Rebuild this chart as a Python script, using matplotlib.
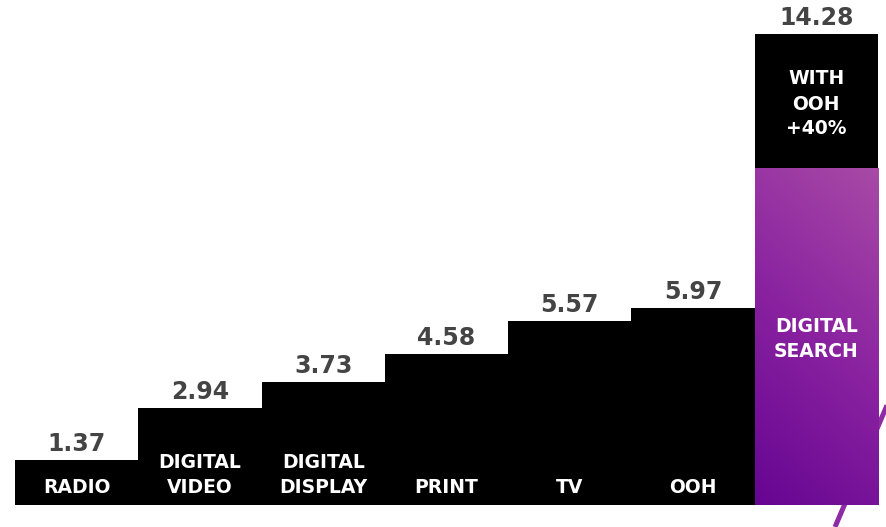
import matplotlib
matplotlib.use("Agg")
import matplotlib.pyplot as plt
import numpy as np
from matplotlib.colors import LinearSegmentedColormap
from matplotlib.lines import Line2D

categories = ["RADIO", "DIGITAL\nVIDEO", "DIGITAL\nDISPLAY", "PRINT", "TV", "OOH", "DIGITAL\nSEARCH"]
values = [1.37, 2.94, 3.73, 4.58, 5.57, 5.97, 14.28]
search_base = 10.2
uplift_label = "WITH\nOOH\n+40%"

W, H = 886, 527
fig = plt.figure(figsize=(W / 100, H / 100), dpi=100)
fig.patch.set_facecolor("white")

# decorative diagonal stroke
fig.add_artist(Line2D([835 / W, 888 / W], [0 / H, 124 / H], color="#8e2aa3",
                      lw=3.6, transform=fig.transFigure, zorder=0, solid_capstyle="butt"))

ax = fig.add_axes([15 / W, 22 / H, 863 / W, 505 / H])
ax.set_zorder(1)
ax.patch.set_alpha(0)
ax.axis("off")

x = np.arange(len(values))
n = len(values)
bottoms = [0] * (n - 1) + [search_base]
heights = values[:-1] + [values[-1] - search_base]
ax.bar(x, heights, bottom=bottoms, width=1.0, color="black", edgecolor="none", zorder=2)

cmap = LinearSegmentedColormap.from_list("p", ["#660592", "#8a22a0", "#a84aa6"])
gx, gy = np.meshgrid(np.linspace(0, 1, 100), np.linspace(0, 1, 200))
grad = 0.75 * gy + 0.25 * gx
ax.imshow(grad, extent=(n - 1.5, n - 0.5, 0, search_base), origin="lower",
          aspect="auto", cmap=cmap, zorder=2, interpolation="bilinear")
ax.set_xlim(-0.5, n - 0.5)
ax.set_ylim(0, 505 / 33)

font = "DejaVu Sans"
for xi, v in zip(x, values):
    ax.annotate(f"{v:.2f}", (xi, v), xytext=(0, 3), textcoords="offset points",
                ha="center", va="bottom", fontsize=17, fontweight="bold",
                color="#444444", family=font, zorder=3)

for xi, c in zip(x[:-1], categories[:-1]):
    ax.annotate(c, (xi, 0), xytext=(0, 6), textcoords="offset points",
                ha="center", va="bottom", fontsize=13.5, fontweight="bold",
                color="white", family=font, linespacing=1.4, zorder=3)

ax.text(x[-1], (505 - 339) / 33, categories[-1], ha="center", va="center",
        fontsize=13.5, fontweight="bold", color="white", family=font,
        linespacing=1.4, zorder=3)
ax.text(x[-1], (505 - 104) / 33, uplift_label, ha="center", va="center",
        fontsize=13.5, fontweight="bold", color="white", family=font,
        linespacing=1.4, zorder=3)

fig.savefig("out.png", dpi=100, facecolor="white")
